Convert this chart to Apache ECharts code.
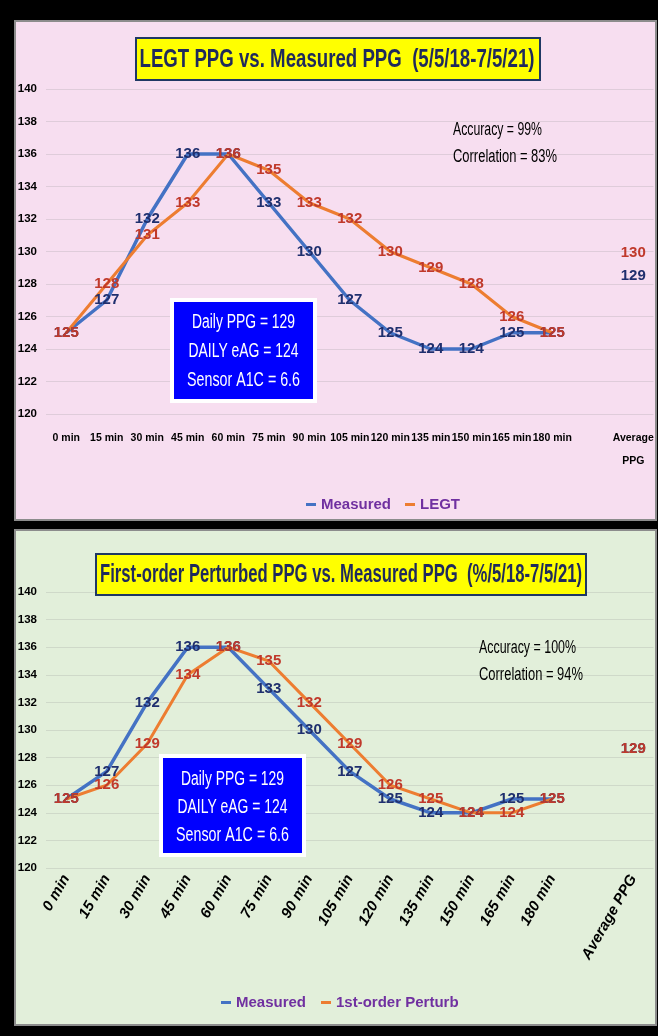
<!DOCTYPE html>
<html><head><meta charset="utf-8">
<script src="https://cdn.jsdelivr.net/npm/echarts@6/dist/echarts.min.js"></script>
<style>html,body{margin:0;padding:0;background:#000;}#c{width:658px;height:1036px;}</style>
</head><body><div id="c"></div>
<script>
// ---- data ----
const categories = ['0 min','15 min','30 min','45 min','60 min','75 min','90 min','105 min','120 min','135 min','150 min','165 min','180 min','','Average PPG'];
const yMin = 120, yMax = 140, yStep = 2;
const measuredTop  = [125,127,132,136,136,133,130,127,125,124,124,125,125,null,128.5];
const legtTop      = [125,128,131,133,136,135,133,132,130,129,128,126,125,null,129.9];
const measuredBot  = [125,127,132,136,136,133,130,127,125,124,124,125,125,null,128.6];
const perturbBot   = [125,126,129,134,136,135,132,129,126,125,124,124,125,null,128.6];
const titleTop = 'LEGT PPG vs. Measured PPG  (5/5/18-7/5/21)';
const titleBot = 'First-order Perturbed PPG vs. Measured PPG  (%/5/18-7/5/21)';
const statsTop = ['Accuracy = 99%', 'Correlation = 83%'];
const statsBot = ['Accuracy = 100%', 'Correlation = 94%'];
const boxLines = ['Daily PPG = 129', 'DAILY eAG = 124', 'Sensor A1C = 6.6'];
const legendTop = ['Measured', 'LEGT'];
const legendBot = ['Measured', '1st-order Perturb'];

// ---- style ----
const FF = '"Liberation Sans", Arial, sans-serif';
const BLUE = '#4472c4', ORANGE = '#ed7d31', NAVY = '#1f2f6e', RED = '#c0392b';
const PINK = '#f7def0', GREEN = '#e2efda';
const chart = echarts.init(document.getElementById('c'));
const mctx = document.createElement('canvas').getContext('2d');

function yAxis(gi) {
  return {
    type: 'value', gridIndex: gi, min: yMin, max: yMax, interval: yStep,
    axisLine: {show: false}, axisTick: {show: false},
    axisLabel: {color: '#000', fontWeight: 'bold', fontSize: 11.5, fontFamily: FF, margin: 9},
    splitLine: {lineStyle: {color: 'rgba(150,150,150,0.25)', width: 1}}
  };
}
function lineSeries(name, data, gi, color, lblColor, width) {
  return {
    type: 'line', name: name, data: data, xAxisIndex: gi, yAxisIndex: gi,
    symbol: 'circle', symbolSize: 1, connectNulls: false,
    itemStyle: {color: color},
    lineStyle: {color: color, width: width, join: 'round'},
    label: {show: true, position: 'inside', color: lblColor, fontWeight: 'bold', fontSize: 15,
      fontFamily: FF, formatter: p => Math.round(p.value)},
    emphasis: {disabled: true}, animation: false
  };
}
// text squeezed horizontally to the reference width (narrow font look)
function fitText(x, y, text, font, fill, targetW, align) {
  mctx.font = font;
  const w = mctx.measureText(text).width || targetW;
  return {type: 'text', x: x, y: y, z: 100, scaleX: targetW / w,
    style: {text: text, font: font, fill: fill, align: align || 'center', verticalAlign: 'middle'}};
}
const TF = 'bold 25px ' + FF, SF = '18px ' + FF, BF = '19.5px ' + FF;
const graphics = [
  {type: 'rect', z: -10, shape: {x: 15, y: 21, width: 641, height: 499}, style: {fill: PINK, stroke: '#8c8c8c', lineWidth: 2}},
  {type: 'rect', z: -10, shape: {x: 15, y: 530, width: 641, height: 495}, style: {fill: GREEN, stroke: '#8c8c8c', lineWidth: 2}},
  {type: 'rect', z: 100, shape: {x: 136, y: 38, width: 404, height: 42}, style: {fill: '#ffff00', stroke: '#1f3864', lineWidth: 2}},
  fitText(337, 60, titleTop, TF, '#1f2a5c', 395),
  {type: 'rect', z: 100, shape: {x: 96, y: 554, width: 490, height: 41}, style: {fill: '#ffff00', stroke: '#1f3864', lineWidth: 2}},
  fitText(341, 575, titleBot, TF, '#1f2a5c', 482),
  fitText(453, 130, statsTop[0], SF, '#000', 89, 'left'),
  fitText(453, 157, statsTop[1], SF, '#000', 104, 'left'),
  fitText(479, 648, statsBot[0], SF, '#000', 97, 'left'),
  fitText(479, 675, statsBot[1], SF, '#000', 104, 'left'),
  {type: 'rect', z: 100, shape: {x: 170, y: 298, width: 147, height: 105}, style: {fill: '#fff'}},
  {type: 'rect', z: 100, shape: {x: 174, y: 302, width: 139, height: 97}, style: {fill: '#0000ff'}},
  fitText(243.5, 323, boxLines[0], BF, '#fff', 103),
  fitText(243.5, 352, boxLines[1], BF, '#fff', 110),
  fitText(243.5, 381, boxLines[2], BF, '#fff', 113),
  {type: 'rect', z: 100, shape: {x: 159, y: 754, width: 147, height: 103}, style: {fill: '#fff'}},
  {type: 'rect', z: 100, shape: {x: 163, y: 758, width: 139, height: 95}, style: {fill: '#0000ff'}},
  fitText(232.5, 780, boxLines[0], BF, '#fff', 103),
  fitText(232.5, 808, boxLines[1], BF, '#fff', 110),
  fitText(232.5, 836, boxLines[2], BF, '#fff', 113)
];
const legendText = {color: '#7030a0', fontWeight: 'bold', fontSize: 15, fontFamily: FF};
chart.setOption({
  backgroundColor: '#000',
  animation: false,
  grid: [
    {left: 46, top: 89, width: 607.5, height: 325},
    {left: 46, top: 592, width: 607.5, height: 276}
  ],
  xAxis: [
    {type: 'category', gridIndex: 0, data: categories, boundaryGap: true,
      axisLine: {show: false}, axisTick: {show: false},
      axisLabel: {interval: 0, color: '#000', fontWeight: 'bold', fontSize: 10.5, fontFamily: FF, margin: 13, lineHeight: 23,
        formatter: v => v.replace(' PPG', '\nPPG')}},
    {type: 'category', gridIndex: 1, data: categories, boundaryGap: true,
      axisLine: {show: false}, axisTick: {show: false},
      axisLabel: {interval: 0, rotate: 60, color: '#000', fontWeight: 'bold', fontStyle: 'italic', fontSize: 15, fontFamily: FF, margin: 8}}
  ],
  yAxis: [yAxis(0), yAxis(1)],
  legend: [
    {data: legendTop, left: 301, top: 492, icon: 'rect', itemWidth: 10, itemHeight: 3, itemGap: 14, textStyle: legendText, selectedMode: false},
    {data: legendBot, left: 216, top: 990, icon: 'rect', itemWidth: 10, itemHeight: 3, itemGap: 15, textStyle: legendText, selectedMode: false}
  ],
  series: [
    lineSeries(legendTop[0], measuredTop, 0, BLUE, NAVY, 3.5),
    lineSeries(legendTop[1], legtTop, 0, ORANGE, RED, 3),
    lineSeries(legendBot[0], measuredBot, 1, BLUE, NAVY, 3.5),
    lineSeries(legendBot[1], perturbBot, 1, ORANGE, RED, 3)
  ],
  graphic: graphics
});
</script></body></html>
